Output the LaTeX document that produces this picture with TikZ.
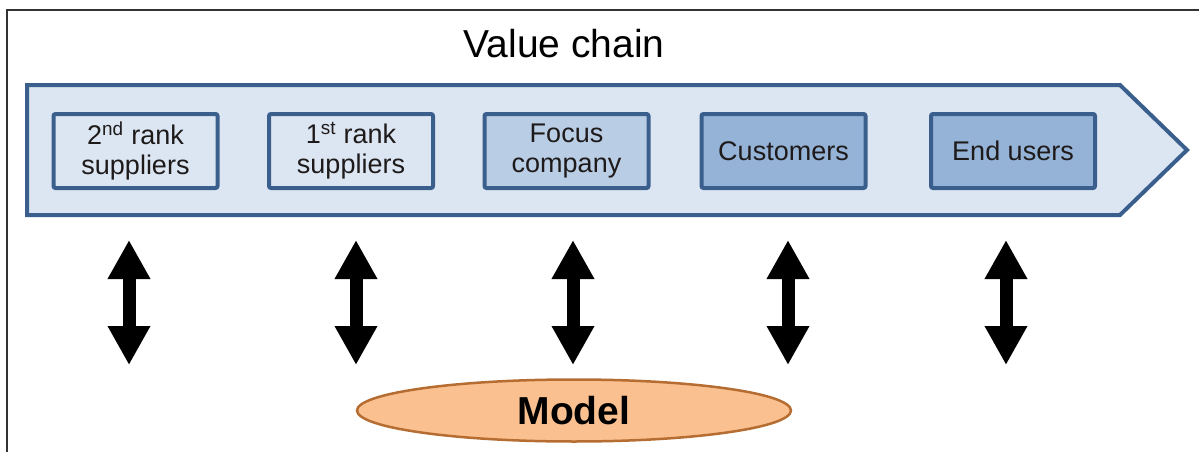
\documentclass[tikz,border=0pt]{standalone}
\usepackage{fontspec}
\setmainfont{Liberation Sans}
\usetikzlibrary{arrows.meta,shapes.geometric}
\definecolor{chainfill}{HTML}{DCE6F2}
\definecolor{chainline}{HTML}{3A5F8D}
\definecolor{midfill}{HTML}{B9CDE5}
\definecolor{darkfill}{HTML}{95B3D7}
\definecolor{modelfill}{HTML}{FAC090}
\definecolor{modelline}{HTML}{B66D31}
\definecolor{textdark}{HTML}{1E1A1A}
\tikzset{
  stagebox/.style={draw=chainline, line width=4pt, rounded corners=2pt,
    minimum width=164pt, minimum height=74pt, inner sep=0pt, align=center,
    text=textdark, font=\fontsize{27}{30}\selectfont},
  bigarrow/.style={line width=13pt,
    {Triangle[width=40pt,length=39pt]}-{Triangle[width=40pt,length=39pt]}},
}
\begin{document}
\begin{tikzpicture}[x=1pt,y=-1pt]
\useasboundingbox (0,0) rectangle (1199,452);
% outer frame
\draw[line width=1.5pt, color=black!80] (7,452) -- (7,10) -- (1199,10);
% title
\node[font=\fontsize{39}{44}\selectfont] (title) at (564,44) {Value chain};
% chevron
\draw[draw=chainline, fill=chainfill, line width=4pt, line join=miter]
  (27,85) -- (1120,85) -- (1187,150) -- (1120,215) -- (27,215) -- cycle;
% stage boxes
\node[stagebox, fill=chainfill] (b1) at (135.5,151) {2\textsuperscript{nd} rank\\suppliers};
\node[stagebox, fill=chainfill] (b2) at (351,151) {1\textsuperscript{st} rank\\suppliers};
\node[stagebox, fill=midfill] (b3) at (566.5,151) {Focus\\company};
\node[stagebox, fill=darkfill] (b4) at (783.5,151) {Customers};
\node[stagebox, fill=darkfill] (b5) at (1013,151) {End users};
% model
\node[ellipse, draw=modelline, fill=modelfill, line width=2.5pt,
  minimum width=434pt, minimum height=62pt, inner sep=0pt,
  font=\bfseries\fontsize{39}{44}\selectfont] (model) at (574,410.5) {Model};
% arrows
\foreach \i/\x in {1/129,2/356,3/573,4/788,5/1006}{
  \coordinate (t\i) at (\x,240);
  \coordinate (u\i) at (\x,365);
  \draw[bigarrow] (t\i) -- (u\i);
}
\end{tikzpicture}
\end{document}
